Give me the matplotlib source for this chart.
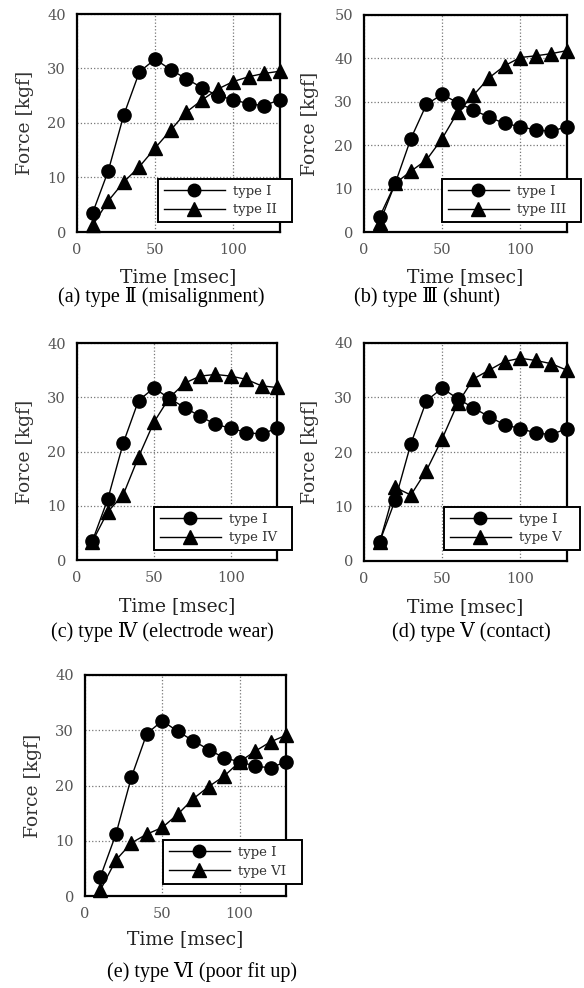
import matplotlib
matplotlib.use("Agg")
import matplotlib.pyplot as plt

# ---------------- data ----------------
time_ms = [10, 20, 30, 40, 50, 60, 70, 80, 90, 100, 110, 120, 130]
type_I = [3.5, 11.2, 21.5, 29.4, 31.7, 29.8, 28.1, 26.5, 25.0, 24.3, 23.5, 23.2, 24.3]
type_II = [1.2, 5.7, 9.2, 12.0, 15.4, 18.7, 22.0, 24.2, 26.2, 27.6, 28.5, 29.1, 29.5]
type_III = [2.1, 11.2, 14.0, 16.6, 21.5, 27.6, 31.5, 35.5, 38.3, 40.2, 40.6, 41.1, 41.8]
type_IV = [3.4, 8.9, 12.0, 19.0, 25.4, 29.9, 32.6, 33.9, 34.2, 33.9, 33.3, 32.1, 31.8]
type_V = [3.4, 13.5, 12.1, 16.6, 22.4, 28.9, 33.4, 35.0, 36.6, 37.2, 36.8, 36.2, 35.0]
type_VI = [1.1, 6.5, 9.6, 11.2, 12.4, 14.8, 17.6, 19.8, 21.7, 24.3, 26.2, 27.9, 29.1]

series_labels = ["type II", "type III", "type IV", "type V", "type VI"]
captions = ["(a) type Ⅱ (misalignment)", "(b) type Ⅲ (shunt)",
            "(c) type Ⅳ (electrode wear)", "(d) type Ⅴ (contact)",
            "(e) type Ⅵ (poor fit up)"]
y_max = [40, 50, 40, 40, 40]
x_ticks = [0, 50, 100]
y_ticks_40 = [0, 10, 20, 30, 40]
y_ticks_50 = [0, 10, 20, 30, 40, 50]
others = [type_II, type_III, type_IV, type_V, type_VI]

# ---------------- layout (pixels) ----------------
W, H = 584, 988
fig = plt.figure(figsize=(W / 100, H / 100), dpi=100)

axes_px = [(77, 14, 280, 232), (364, 15, 567, 232), (77, 343, 277, 560),
           (364, 343, 567, 561), (85, 675, 286, 896)]
legend_px = [(158, 172, 292, 229), (442, 172, 581, 229), (154, 500, 292, 557),
             (444, 500, 580, 557), (163, 833, 302, 891)]
ylabel_x = [25, 310, 25, 310, 33]
xlabel_y = [277, 277, 606, 607, 939]
caption_pos = [(161, 297), (427, 297), (162, 632), (471, 632), (202, 972)]

serif = ["DejaVu Serif"]
cap_font = ["Liberation Serif", "DejaVu Serif"]
tick_color = "#555555"

def fx(x):
    return x / W

def fy(y):
    return 1 - y / H

for i in range(5):
    l, t, r, b = axes_px[i]
    ax = fig.add_axes([fx(l), fy(b), (r - l) / W, (b - t) / H])
    ax.plot(time_ms, type_I, color="black", lw=1.0, marker="o", ms=9.5,
            mfc="black", mec="black", clip_on=False, zorder=3, label="type I")
    ax.plot(time_ms, others[i], color="black", lw=1.0, marker="^", ms=10.5,
            mfc="black", mec="black", clip_on=False, zorder=3,
            label=series_labels[i])
    ax.set_xlim(0, 130)
    ax.set_ylim(0, y_max[i])
    ax.set_xticks(x_ticks)
    ax.set_yticks(y_ticks_50 if y_max[i] == 50 else y_ticks_40)
    ax.grid(True, linestyle=":", color="#777777", lw=0.9)
    ax.set_axisbelow(True)
    for s in ax.spines.values():
        s.set_linewidth(1.6)
        s.set_color("black")
    ax.tick_params(length=0, labelsize=10.5, colors=tick_color, pad=8)
    for lab in ax.get_xticklabels() + ax.get_yticklabels():
        lab.set_family(serif)

    ll, lt, lr, lb = legend_px[i]
    leg = ax.legend(loc="center", bbox_to_anchor=(fx(ll), fy(lb), (lr - ll) / W, (lb - lt) / H),
                    bbox_transform=fig.transFigure, mode="expand",
                    prop={"family": serif, "size": 9.5}, labelcolor="#333333",
                    frameon=True, fancybox=False, edgecolor="black",
                    framealpha=1, handlelength=4.6, handletextpad=0.6,
                    borderpad=0.45, labelspacing=0.45, markerscale=0.95,
                    borderaxespad=0)
    leg.get_frame().set_linewidth(1.4)
    leg.set_zorder(5)

    fig.text(fx(ylabel_x[i]), fy((t + b) / 2), "Force [kgf]", rotation=90,
             ha="center", va="center", family=serif, fontsize=13.5, color="#333333")
    fig.text(fx((l + r) / 2), fy(xlabel_y[i]), "Time [msec]", ha="center",
             va="center", family=serif, fontsize=13.5, color="#222222")
    cx, cy = caption_pos[i]
    fig.text(fx(cx), fy(cy), captions[i], ha="center", va="center",
             family=cap_font, fontsize=14.5, color="black")

fig.savefig("out.png", dpi=100)
